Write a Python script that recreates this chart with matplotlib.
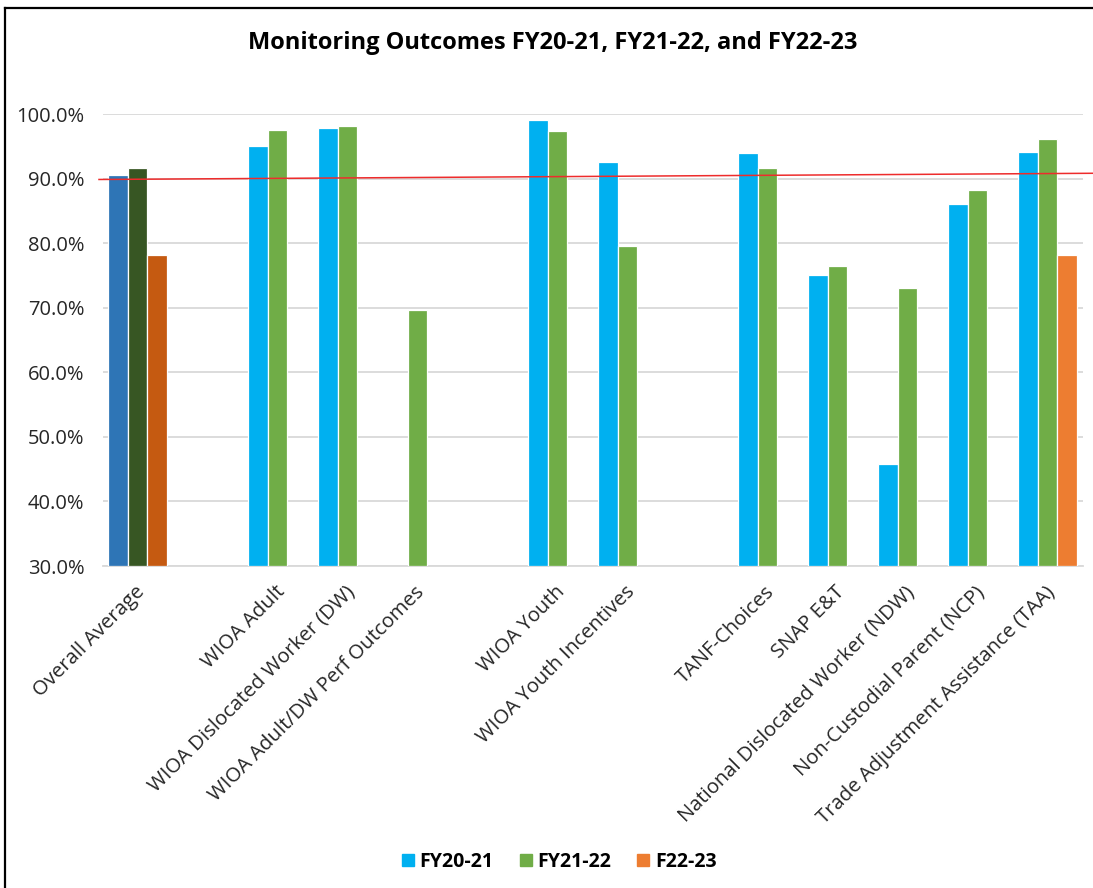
import numpy as np
import matplotlib
matplotlib.use("Agg")
import matplotlib.pyplot as plt
from matplotlib import font_manager
from matplotlib.lines import Line2D

# ---- data -------------------------------------------------------------
categories = [
    "Overall Average", "",
    "WIOA Adult", "WIOA Dislocated Worker (DW)", "WIOA Adult/DW Perf Outcomes", "",
    "WIOA Youth", "WIOA Youth Incentives", "",
    "TANF-Choices", "SNAP E&T", "National Dislocated Worker (NDW)",
    "Non-Custodial Parent (NCP)", "Trade Adjustment Assistance (TAA)",
]
nan = np.nan
fy20_21 = [90.5, nan, 95.1, 97.8, nan, nan, 99.0, 92.6, nan, 93.9, 75.1, 45.8, 86.0, 94.1]
fy21_22 = [91.6, nan, 97.5, 98.1, 69.6, nan, 97.4, 79.6, nan, 91.6, 76.4, 73.0, 88.2, 96.1]
f22_23 = [78.1, nan, nan, nan, nan, nan, nan, nan, nan, nan, nan, nan, nan, 78.1]
series_names = ["FY20-21", "FY21-22", "F22-23"]
yticks = [30, 40, 50, 60, 70, 80, 90, 100]
# reference line drawn across the chart (start and end level, %)
ref_line = [89.86, 90.82]

# ---- styling ------------------------------------------------------------
series_colors = ["#00B0F0", "#70AD47", "#ED7D31"]
overall_colors = ["#2E75B6", "#375623", "#C55A11"]


def pick_font(cands):
    names = {f.name for f in font_manager.fontManager.ttflist}
    for c in cands:
        if c in names:
            return c
    return "DejaVu Sans"


font = pick_font(["Liberation Sans Narrow", "Open Sans", "Lato", "DejaVu Sans"])
plt.rcParams["font.family"] = [font, "DejaVu Sans"]

W, H = 1093, 888
fig = plt.figure(figsize=(W / 100, H / 100), dpi=100)
ax = fig.add_axes([102.5 / W, 1 - 566 / H, 980 / W, 452 / H])

x = np.arange(len(categories))
bw = 0.2857
offsets = [-bw, 0.0, bw]
for i, (vals, name) in enumerate(zip([fy20_21, fy21_22, f22_23], series_names)):
    vals = np.array(vals, dtype=float)
    heights = np.where(np.isnan(vals), 0, vals - 30)
    colors = [overall_colors[i] if k == 0 else series_colors[i] for k in range(len(vals))]
    mask = ~np.isnan(vals)
    ax.bar(x[mask] + offsets[i], heights[mask], bottom=30, width=bw,
           color=np.array(colors)[mask], edgecolor="white", linewidth=0.9, zorder=3)

ax.set_xlim(-0.5, len(categories) - 0.5)
ax.set_ylim(30, 100)
ax.set_yticks(yticks)
ax.set_yticklabels([f"{v:.1f}%" for v in yticks], fontsize=14.5, color="#262626")
ax.yaxis.grid(True, color="#D9D9D9", linewidth=1.3, zorder=0)
ax.set_axisbelow(True)
for s in ["left", "right", "top"]:
    ax.spines[s].set_visible(False)
ax.spines["bottom"].set_color("#D9D9D9")
ax.spines["bottom"].set_linewidth(1.3)
ax.tick_params(axis="both", length=0)
ax.tick_params(axis="y", pad=13)

ax.set_xticks(x)
ax.set_xticklabels([])
for xi, lab in zip(x, categories):
    if lab:
        ax.text(xi + 0.06, 26.4, lab, rotation=45, rotation_mode="anchor",
                ha="right", va="center", fontsize=14.6, color="#262626")

# reference line, extends slightly beyond the plot area
ax.plot([-0.55, 13.65], ref_line, color="#EE2C2C", linewidth=1.1, zorder=4,
        clip_on=False)

fig.text(0.506, 1 - 43 / H, "Monitoring Outcomes FY20-21, FY21-22, and FY22-23",
         ha="center", va="center", fontsize=17, fontweight="bold", color="black")

handles = [Line2D([], [], marker="s", linestyle="none", markersize=8.5,
                  markerfacecolor=c, markeredgecolor=c) for c in series_colors]
leg = fig.legend(handles, series_names, loc="center", bbox_to_anchor=(0.51, 1 - 862 / H),
                 ncol=3, frameon=False, prop={"size": 14, "weight": "bold"},
                 handletextpad=0.1, columnspacing=1.15, handlelength=1.0)

# chart frame (left and top edges)
fig.add_artist(Line2D([4.5 / W, 4.5 / W], [0, 1 - 8.5 / H], color="black",
                      linewidth=1.6, transform=fig.transFigure))
fig.add_artist(Line2D([4.5 / W, 1], [1 - 8.5 / H, 1 - 8.5 / H], color="black",
                      linewidth=1.6, transform=fig.transFigure))

fig.savefig("out.png", dpi=100, facecolor="white")
